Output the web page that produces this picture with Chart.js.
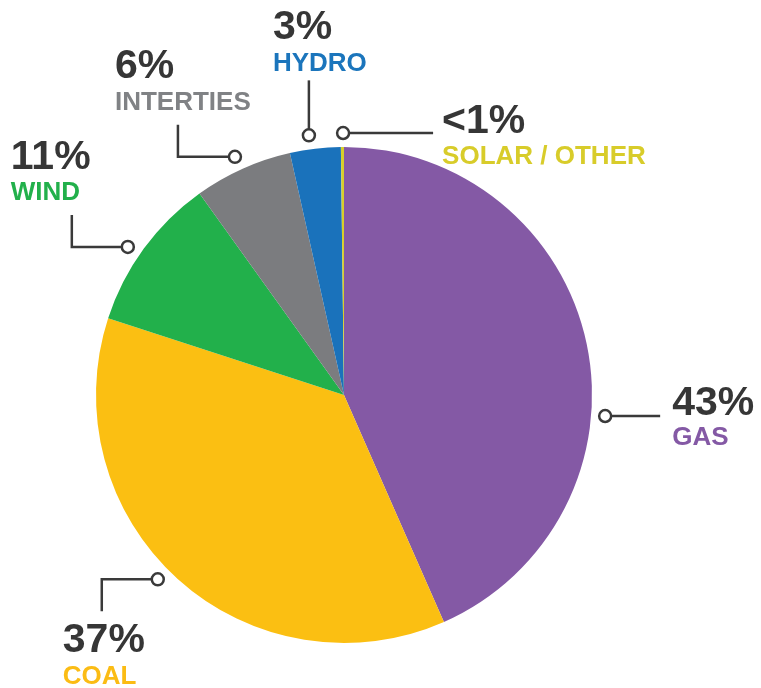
<!DOCTYPE html>
<html lang="en">
<head>
    <meta charset="UTF-8">
    <script src="https://cdn.jsdelivr.net/npm/chart.js"></script>
    <title>Generation mix</title>
    <style>
        body { margin: 0; background: #fff; }
        #wrap { width: 761px; height: 688px; }
    </style>
</head>
<body>
    <div id="wrap">
        <canvas id="mixChart" width="761" height="688"></canvas>
    </div>

    <script>
        // Data
        const sources = ['GAS', 'COAL', 'WIND', 'INTERTIES', 'HYDRO', 'SOLAR / OTHER'];
        const shares = [43.4, 36.6, 10.1, 6.4, 3.3, 0.2];
        const shareLabels = ['43%', '37%', '11%', '6%', '3%', '<1%'];
        const sliceColors = ['#8459a5', '#fbbf12', '#22b04b', '#7b7c7f', '#1a72bb', '#d8cf2a'];
        const nameColors = ['#8459a5', '#fbbc14', '#22b04b', '#808285', '#1b75bc', '#d8cc2a'];

        // Leader layout per slice: dot angle (deg, clockwise from top), path offsets from dot, text offsets from dot
        const leaders = [
            { angle: 94.6,  path: [[55, 0]],            tx: 67,   pct: -1,  name: 29 },
            { angle: 225.3, path: [[-56, 0], [-56, 32]], tx: -95,  pct: 73,  name: 105 },
            { angle: 304.4, path: [[-56, 0], [-56, -32]], tx: -117, pct: -78, name: -47 },
            { angle: 335.4, path: [[-57, 0], [-57, -32]], tx: -120, pct: -79, name: -47 },
            { angle: 352.3, path: [[0, -55]],           tx: -36,  pct: -96, name: -64 },
            { angle: 359.8, path: [[90, 0]],            tx: 99,   pct: 0,   name: 31 }
        ];

        const leaderPlugin = {
            id: 'leaders',
            afterDraw(chart) {
                const ctx = chart.ctx;
                const arc = chart.getDatasetMeta(0).data[0];
                const cx = arc.x, cy = arc.y, r = arc.outerRadius + 14;
                ctx.save();
                leaders.forEach((l, i) => {
                    const a = l.angle * Math.PI / 180;
                    const dx = cx + r * Math.sin(a);
                    const dy = cy - r * Math.cos(a);
                    ctx.strokeStyle = '#3a3a3a';
                    ctx.lineWidth = 2.5;
                    ctx.beginPath();
                    const first = l.path[0];
                    const len = Math.hypot(first[0], first[1]);
                    ctx.moveTo(dx + 6 * first[0] / len, dy + 6 * first[1] / len);
                    l.path.forEach(p => ctx.lineTo(dx + p[0], dy + p[1]));
                    ctx.stroke();
                    ctx.beginPath();
                    ctx.arc(dx, dy, 6, 0, Math.PI * 2);
                    ctx.fillStyle = '#fff';
                    ctx.fill();
                    ctx.stroke();

                    ctx.textAlign = 'left';
                    ctx.textBaseline = 'alphabetic';
                    ctx.fillStyle = '#363636';
                    ctx.font = 'bold 41px "Liberation Sans", Arial, sans-serif';
                    ctx.fillText(shareLabels[i], dx + l.tx, dy + l.pct);
                    ctx.fillStyle = nameColors[i];
                    ctx.font = 'bold 26px "Liberation Sans", Arial, sans-serif';
                    ctx.fillText(sources[i], dx + l.tx, dy + l.name);
                });
                ctx.restore();
            }
        };

        const ctx = document.getElementById('mixChart').getContext('2d');
        new Chart(ctx, {
            type: 'pie',
            data: {
                labels: sources,
                datasets: [{
                    data: shares,
                    backgroundColor: sliceColors,
                    borderWidth: 0
                }]
            },
            options: {
                responsive: false,
                animation: false,
                layout: {
                    padding: { top: 147, bottom: 45, left: 96, right: 169 }
                },
                plugins: {
                    legend: { display: false },
                    tooltip: { enabled: false }
                }
            },
            plugins: [leaderPlugin]
        });
    </script>
</body>
</html>
